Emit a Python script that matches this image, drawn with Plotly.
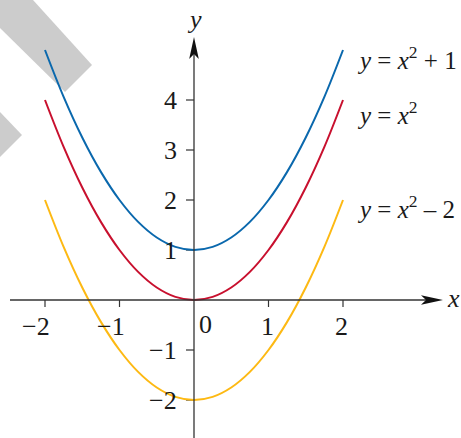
import plotly.graph_objects as go

# ---- data ----
xs = [-2, -1.75, -1.5, -1.25, -1, -0.75, -0.5, -0.25, 0, 0.25, 0.5, 0.75, 1, 1.25, 1.5, 1.75, 2]
y_sq = [4, 3.0625, 2.25, 1.5625, 1, 0.5625, 0.25, 0.0625, 0, 0.0625, 0.25, 0.5625, 1, 1.5625, 2.25, 3.0625, 4]
y_plus1 = [5, 4.0625, 3.25, 2.5625, 2, 1.5625, 1.25, 1.0625, 1, 1.0625, 1.25, 1.5625, 2, 2.5625, 3.25, 4.0625, 5]
y_minus2 = [2, 1.0625, 0.25, -0.4375, -1, -1.4375, -1.75, -1.9375, -2, -1.9375, -1.75, -1.4375, -1, -0.4375, 0.25, 1.0625, 2]

x_ticks = [-2, -1, 1, 2]
x_tick_labels = ["\u22122", "\u22121", "1", "2"]
y_ticks = [-2, -1, 1, 2, 3, 4]
y_tick_labels = ["\u22122", "\u22121", "1", "2", "3", "4"]

curve_labels = ["<i>y</i> = <i>x</i><sup>2</sup> + 1", "<i>y</i> = <i>x</i><sup>2</sup>", "<i>y</i> = <i>x</i><sup>2</sup> \u2013 2"]
curve_label_y = [4.84, 3.74, 1.86]

BLUE = "#0a68ad"
RED = "#c8102e"
YELLOW = "#fdb913"
AX = "#333333"
FONT = "Liberation Serif, Times New Roman, serif"

W, H = 461, 438
XR = [-194 / 74.5, 267 / 74.5]
YR = [-138 / 50, 300 / 50]
px_x = (XR[1] - XR[0]) / W
px_y = (YR[1] - YR[0]) / H

fig = go.Figure()
for ys, col in [(y_minus2, YELLOW), (y_sq, RED), (y_plus1, BLUE)]:
    fig.add_trace(go.Scatter(x=xs, y=ys, mode="lines", line=dict(color=col, width=2, shape="spline"),
                             hoverinfo="skip", showlegend=False))

shapes = []
# watermark bands (paper coords)
def pp(px, py):
    return f"{px / W:.4f},{1 - py / H:.4f}"
shapes.append(dict(type="path", xref="paper", yref="paper", layer="below",
                   path=f"M {pp(0,0)} L {pp(33,0)} L {pp(92,65)} L {pp(65,92)} L {pp(0,28)} Z",
                   fillcolor="#cccccc", line=dict(width=0)))
shapes.append(dict(type="path", xref="paper", yref="paper", layer="below",
                   path=f"M {pp(0,112)} L {pp(22,135)} L {pp(0,157)} Z",
                   fillcolor="#cccccc", line=dict(width=0)))

# axes
shapes.append(dict(type="line", x0=XR[0] + 10 * px_x, x1=3.2, y0=0, y1=0, line=dict(color=AX, width=1.3), layer="above"))
shapes.append(dict(type="line", x0=0, x1=0, y0=YR[0], y1=4.95, line=dict(color=AX, width=1.3), layer="above"))
# arrowheads
tipy = (300 - 37) / 50
shapes.append(dict(type="path", layer="above", fillcolor="#111111", line=dict(width=0),
                   path=f"M 0,{tipy} L {-4.8*px_x},{tipy-22*px_y} L 0,{tipy-17*px_y} L {4.8*px_x},{tipy-22*px_y} Z"))
tipx = (443 - 194) / 74.5
shapes.append(dict(type="path", layer="above", fillcolor="#111111", line=dict(width=0),
                   path=f"M {tipx},0 L {tipx-22*px_x},{4.8*px_y} L {tipx-17*px_x},0 L {tipx-22*px_x},{-4.8*px_y} Z"))
# ticks
for t in x_ticks:
    shapes.append(dict(type="line", x0=t, x1=t, y0=0, y1=-7 * px_y, line=dict(color=AX, width=1.2), layer="below"))
for t in y_ticks:
    shapes.append(dict(type="line", x0=0, x1=-8 * px_x, y0=t, y1=t, line=dict(color=AX, width=1.2), layer="below"))

TF = dict(family=FONT, size=26, color="#1a1a1a")
ann = []
for t, lab in zip(x_ticks, x_tick_labels):
    ann.append(dict(x=t, y=0, text=lab, showarrow=False, xanchor="right", yanchor="middle",
                    xshift=7, yshift=-26, font=TF))
ann.append(dict(x=0, y=0, text="0", showarrow=False, xanchor="right", yanchor="middle",
                xshift=20, yshift=-24, font=TF))
for t, lab in zip(y_ticks, y_tick_labels):
    ann.append(dict(x=0, y=t, text=lab, showarrow=False, xanchor="right", yanchor="middle",
                    xshift=-15, yshift=0, font=TF))
ann.append(dict(x=0, y=tipy, text="<i>y</i>", showarrow=False, xanchor="center", yanchor="middle",
                yshift=18, font=TF))
ann.append(dict(x=tipx, y=0, text="<i>x</i>", showarrow=False, xanchor="center", yanchor="middle",
                xshift=10, yshift=2, font=TF))
for lab, yy in zip(curve_labels, curve_label_y):
    ann.append(dict(x=(355 - 194) / 74.5, y=yy, text=lab, showarrow=False, xanchor="left", yanchor="middle",
                    font=dict(family=FONT, size=25, color="#1a1a1a")))

fig.update_layout(
    width=W, height=H, margin=dict(l=0, r=0, t=0, b=0),
    paper_bgcolor="white", plot_bgcolor="white",
    xaxis=dict(range=XR, visible=False, fixedrange=True),
    yaxis=dict(range=YR, visible=False, fixedrange=True),
    shapes=shapes, annotations=ann, showlegend=False,
)
fig.write_html("out.html", config=dict(displayModeBar=False),
               post_script="document.body.style.margin='0';document.body.style.overflow='hidden';")
